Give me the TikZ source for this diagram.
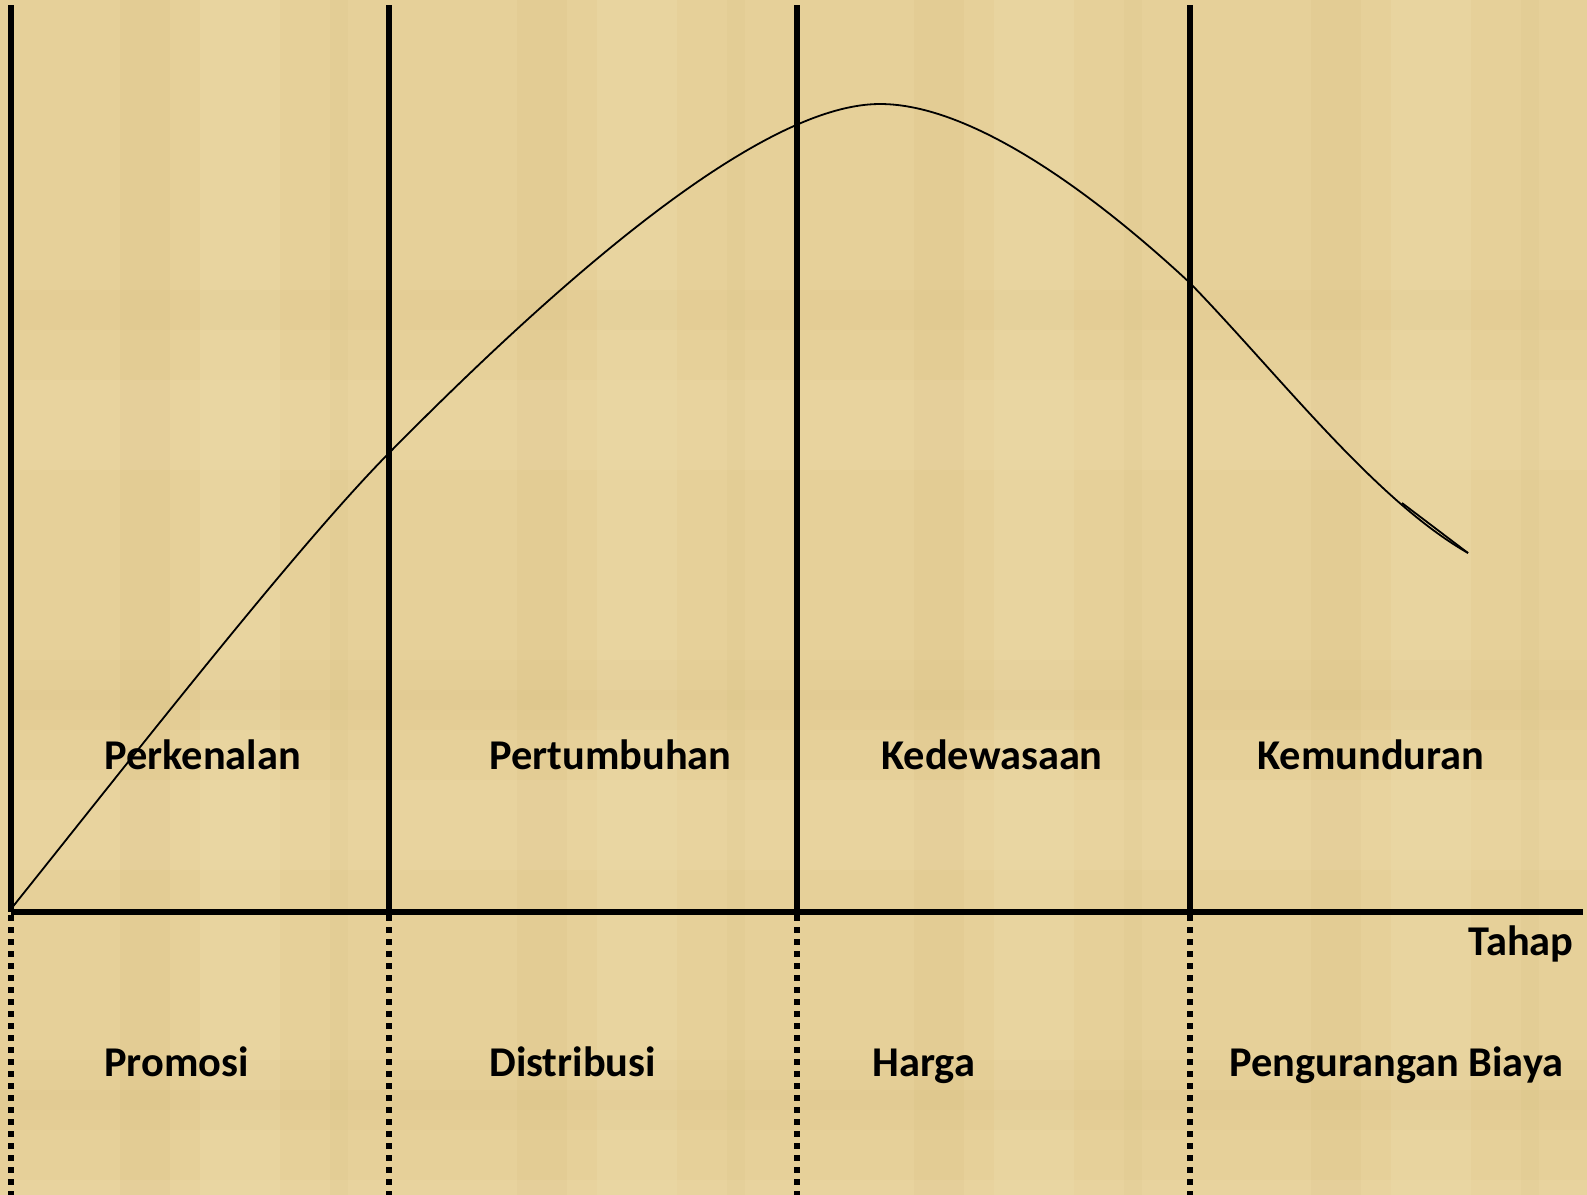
\documentclass[tikz,border=0pt]{standalone}
\usepackage{fontspec}
\setmainfont{Carlito}
\definecolor{papyrus}{RGB}{230,208,153}
\definecolor{papyruslight}{RGB}{240,223,178}
\definecolor{papyrusdark}{RGB}{212,186,122}
\tikzset{
  stage/.style={anchor=base west, inner sep=0pt, font=\fontsize{21.2}{25}\selectfont\bfseries},
  divider/.style={line width=2.8pt},
  guide/.style={line width=2.8pt, dash pattern=on 3pt off 3pt},
}
\begin{document}
\begin{tikzpicture}[x=0.5pt, y=-0.5pt]
    \useasboundingbox (0,0) rectangle (1587,1195);
    \fill[papyrus] (0,0) rectangle (1587,1195);
    % parchment texture, one tile per stage
    \foreach \t in {0,397,794,1191} {
        \fill[papyrusdark, opacity=0.16] (\t+120,0) rectangle ++(50,1195);
        \fill[papyrusdark, opacity=0.12] (\t+330,0) rectangle ++(18,1195);
        \fill[papyruslight, opacity=0.28] (\t+200,0) rectangle ++(80,1195);
    }
    \foreach \t in {0,400,800} {
        \fill[papyrusdark, opacity=0.10] (0,\t+290) rectangle ++(1587,40);
        \fill[papyruslight, opacity=0.20] (0,\t+380) rectangle ++(1587,90);
        \fill[papyrusdark, opacity=0.08] (0,\t+660) rectangle ++(1587,50);
    }

    % stage borders
    \foreach \x [count=\i] in {11,389,797,1190} {
        \coordinate (top\i) at (\x,5);
        \coordinate (base\i) at (\x,912);
        \coordinate (foot\i) at (\x,1195);
        \draw[divider] (top\i) -- (base\i);
        \draw[guide] (\x,915) -- (foot\i);
    }
    \coordinate (axisend) at (1583,912);
    \draw[divider] (base1) -- (axisend);

    % life cycle curve
    \coordinate (start) at (11,909);
    \coordinate (peak) at (880,104);
    \coordinate (stop) at (1468,553);
    \draw[line width=0.9pt] (start)
        .. controls (146,740) and (300,543) .. (390,452)
        .. controls (560,280) and (760,104) .. (peak)
        .. controls (970,104) and (1090,190) .. (1190,283)
        .. controls (1280,376) and (1375,500) .. (stop);
    \coordinate (tailA) at (1402,503);
    \draw[line width=0.9pt] (tailA) -- (stop);

    \node[stage] (intro) at (104,769) {Perkenalan};
    \node[stage] (growth) at (489,769) {Pertumbuhan};
    \node[stage] (mature) at (881,769) {Kedewasaan};
    \node[stage] (decline) at (1257,769) {Kemunduran};
    \node[stage, anchor=base east] (tahap) at (1574,955) {Tahap};

    \node[stage] (promo) at (104,1076) {Promosi};
    \node[stage] (distrib) at (489,1076) {Distribusi};
    \node[stage] (price) at (872,1076) {Harga};
    \node[stage] (cost) at (1229,1076) {Pengurangan Biaya};
\end{tikzpicture}
\end{document}
